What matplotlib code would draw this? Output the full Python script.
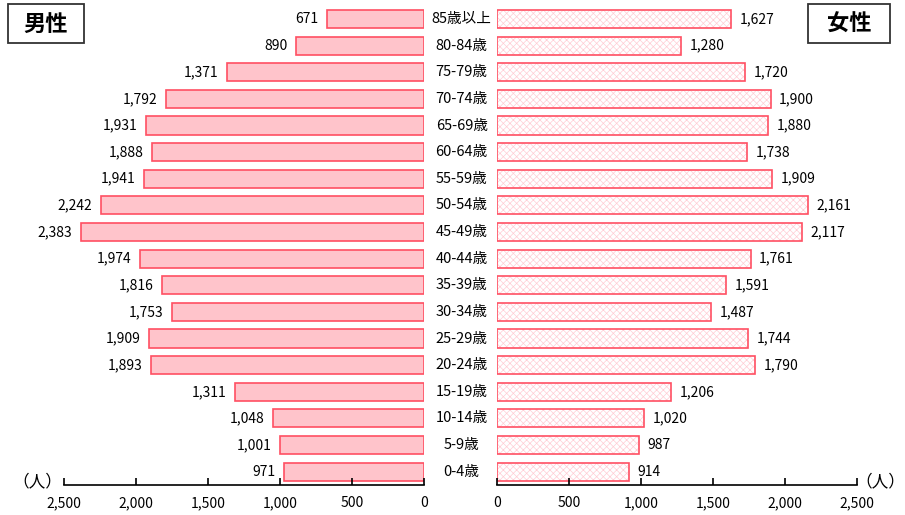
import matplotlib.pyplot as plt
from matplotlib.patches import Rectangle
from matplotlib.ticker import FuncFormatter

plt.rcParams['font.family'] = ['Noto Sans CJK JP', 'DejaVu Sans']
plt.rcParams['hatch.linewidth'] = 0.5

ages = ["85歳以上", "80-84歳", "75-79歳", "70-74歳", "65-69歳", "60-64歳",
        "55-59歳", "50-54歳", "45-49歳", "40-44歳", "35-39歳", "30-34歳",
        "25-29歳", "20-24歳", "15-19歳", "10-14歳", "5-9歳", "0-4歳"]
male = [671, 890, 1371, 1792, 1931, 1888, 1941, 2242, 2383,
        1974, 1816, 1753, 1909, 1893, 1311, 1048, 1001, 971]
female = [1627, 1280, 1720, 1900, 1880, 1738, 1909, 2161, 2117,
          1761, 1591, 1487, 1744, 1790, 1206, 1020, 987, 914]
ticks = [0, 500, 1000, 1500, 2000, 2500]

edge = "#ff4f62"
fill_m = "#ffc4cb"
hatch_f = "#ffcdd4"

W, H = 905, 515
fig = plt.figure(figsize=[W / 100, H / 100], dpi=100)
ax_l = fig.add_axes([64 / W, 30 / H, 360 / W, 479.3 / H])
ax_r = fig.add_axes([497 / W, 30 / H, 360 / W, 479.3 / H])

y = list(range(len(ages)))
comma = FuncFormatter(lambda v, p: f"{int(v):,}")

for ax in (ax_l, ax_r):
    ax.set_ylim(len(ages) - 0.5, -0.5)
    ax.set_yticks([])
    for s in ("left", "right", "top"):
        ax.spines[s].set_visible(False)
    ax.spines["bottom"].set_linewidth(1.2)
    ax.set_xticks(ticks)
    ax.xaxis.set_major_formatter(comma)
    ax.tick_params(axis="x", direction="in", length=5, width=1.2,
                   labelsize=10, pad=8)

ax_l.set_xlim(2500, 0)
ax_r.set_xlim(0, 2500)

# 男性: solid pink bars
ax_l.barh(y, male, height=0.68, color=fill_m, edgecolor=edge, linewidth=1.2)
for i, v in enumerate(male):
    ax_l.text(v + 60, i, f"{v:,}", ha="right", va="center", fontsize=10)

# 女性: lattice hatch, then red outline on top
ax_r.barh(y, female, height=0.68, color="white", edgecolor=hatch_f,
          hatch="xxxxx", linewidth=0)
ax_r.barh(y, female, height=0.68, fill=False, edgecolor=edge, linewidth=1.2)
for i, v in enumerate(female):
    ax_r.text(v + 60, i, f"{v:,}", ha="left", va="center", fontsize=10)

for i, a in enumerate(ages):
    ax_r.text(-245, i, a, ha="center", va="center", fontsize=10.5,
              clip_on=False)

fig.text(37 / W, 1 - 482 / H, "（人）", ha="center", va="center", fontsize=12)
fig.text(880 / W, 1 - 482 / H, "（人）", ha="center", va="center", fontsize=12)

# title boxes
for x0, x1, label in [(8, 84, "男性"), (808, 890, "女性")]:
    fig.patches.append(Rectangle((x0 / W, 1 - 43 / H), (x1 - x0) / W, 39 / H,
                                 transform=fig.transFigure, facecolor="white",
                                 edgecolor="#333333", linewidth=1.3))
    fig.text((x0 + x1) / 2 / W, 1 - 24 / H, label, ha="center", va="center",
             fontsize=16, fontweight="bold")

plt.savefig("out.png")
